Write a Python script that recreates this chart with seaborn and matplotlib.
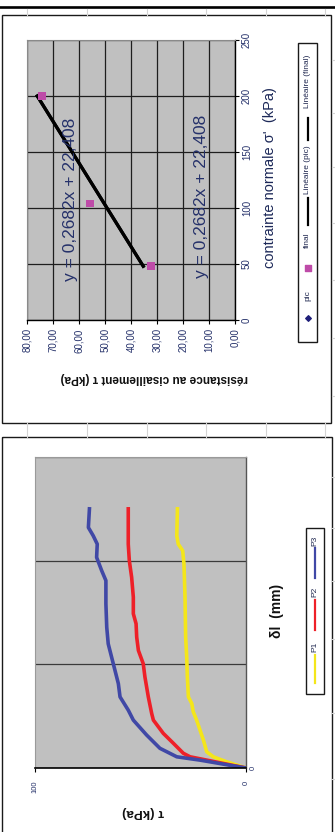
import matplotlib
matplotlib.use("Agg")
import matplotlib.pyplot as plt
import seaborn as sns
from matplotlib.patches import Rectangle

plt.rcParams['font.family'] = ['Liberation Sans', 'DejaVu Sans']

# ---- Shear strength envelope (normal stress vs. shear strength) ----
sigma_n = [48, 104, 200]            # contrainte normale (kPa)
tau_pic = [32.4, 55.8, 74.3]        # résistance de pic (kPa)
tau_final = [32.4, 55.8, 74.3]      # résistance finale (kPa)
trend_slope = 0.2682
trend_intercept = 22.408
envelope_series = ["pic", "final", "Linéaire (pic)", "Linéaire (final)"]
tau_ticks = [80, 70, 60, 50, 40, 30, 20, 10, 0]
sigma_ticks = [0, 50, 100, 150, 200, 250]

# ---- Shear stress vs. horizontal displacement ----
curve_names = ["P1", "P2", "P3"]
dl_p1 = [0, 0.3, 0.54, 0.78, 1.35, 1.83, 2.31, 2.71, 3.11, 3.43, 4.39, 5.35,
         6.31, 8.24, 9.84, 10.48, 10.8, 11.2, 12.5]
tau_p1 = [0, 9.2, 15.5, 18.6, 20.2, 21.8, 23.4, 25.0, 25.7, 27.3, 27.8, 28.1,
          28.6, 28.9, 29.4, 30.0, 32.1, 32.8, 32.5]
dl_p2 = [0, 0.38, 0.54, 0.71, 1.19, 1.67, 2.31, 2.63, 3.43, 4.39, 5.03, 5.67,
         6.31, 6.96, 7.44, 8.24, 9.2, 10.0, 10.8, 11.76, 12.5]
tau_p2 = [0, 18.6, 26.5, 29.7, 34.4, 39.2, 43.9, 44.7, 46.3, 47.9, 48.7, 51.0,
          51.8, 52.1, 53.4, 53.4, 54.2, 55.3, 55.8, 55.8, 55.8]
dl_p3 = [0, 0.38, 0.54, 0.95, 1.59, 2.31, 2.79, 3.43, 4.07, 4.71, 5.35, 5.99,
         6.79, 7.92, 9.04, 9.52, 10.16, 10.8, 11.2, 11.6, 12.5]
tau_p3 = [0, 21.8, 32.8, 40.8, 47.1, 53.4, 55.8, 59.7, 60.5, 62.1, 63.7, 65.3,
          66.0, 66.4, 66.4, 68.4, 70.8, 70.5, 72.4, 74.7, 74.2]
curve_ticks_tau = [100, 0]
curve_ticks_dl = [0, 5, 10, 15]

curve_colors = ["#f4e61a", "#ee2028", "#4048a6"]
navy = "#25316a"
W, H = 335, 832

fig = plt.figure(figsize=(W / 100, H / 100), dpi=100)


def rect(x0, y0, x1, y1):
    return [x0 / W, 1 - y1 / H, (x1 - x0) / W, (y1 - y0) / H]


# page layer in pixel coordinates
deco = fig.add_axes([0, 0, 1, 1], zorder=0)
deco.set_xlim(0, W)
deco.set_ylim(H, 0)
deco.set_axis_off()

deco.plot([0, W], [7, 7], color="black", lw=1.9)
for gx in [27, 87, 147, 206, 266, 325]:
    deco.plot([gx, gx], [9, 15], color="#d4d4d4", lw=0.8)
    deco.plot([gx, gx], [423, 437], color="#d4d4d4", lw=0.8)
for gy in [60, 113, 167, 223, 280, 338, 396, 477, 528, 581, 639, 713, 779]:
    deco.plot([332, W], [gy, gy], color="#d4d4d4", lw=0.8)
deco.add_patch(Rectangle((2, 15), 329, 408, fill=False, ec="#1a1a1a", lw=1.0))
deco.add_patch(Rectangle((2, 437), 330, 420, fill=False, ec="#1a1a1a", lw=1.0))

# ---- envelope chart ----
ax1 = fig.add_axes(rect(27, 40, 235, 320), zorder=1)
ax1.set_facecolor("#c0c0c0")
sns.scatterplot(x=tau_pic, y=sigma_n, marker="D", s=10, color="#1f1f7a",
                edgecolor="none", ax=ax1, zorder=3)
sigma_line = [min(sigma_n), max(sigma_n)]
for _ in range(2):
    tau_line = [trend_slope * s + trend_intercept for s in sigma_line]
    sns.lineplot(x=tau_line, y=sigma_line, sort=False, estimator=None,
                 color="black", lw=2.3, ax=ax1, zorder=4)
sns.scatterplot(x=tau_final, y=sigma_n, marker="s", s=30, color="#be4ba8",
                edgecolor="none", ax=ax1, zorder=5)
ax1.set_xlim(80, 0)
ax1.set_ylim(0, 250)
ax1.set_xticks(tau_ticks)
ax1.set_xticklabels([f"{v:.2f}".replace(".", ",") for v in tau_ticks])
ax1.yaxis.tick_right()
ax1.set_yticks(sigma_ticks)
ax1.set_yticklabels([str(v) for v in sigma_ticks])
ax1.tick_params(axis="x", rotation=90, length=3, width=0.8, pad=3,
                labelsize=7, labelcolor=navy)
ax1.tick_params(axis="y", rotation=90, length=3, width=0.8, pad=2,
                labelsize=7, labelcolor=navy)
for lab in ax1.get_yticklabels():
    lab.set_va("center")
ax1.grid(True, color="#1e1e1e", lw=0.9)
ax1.set_axisbelow(True)
for side in ["bottom", "right"]:
    ax1.spines[side].set_color("black")
    ax1.spines[side].set_linewidth(1.0)
for side in ["top", "left"]:
    ax1.spines[side].set_color("#8a8a8a")
    ax1.spines[side].set_linewidth(0.8)
ax1.set_xlabel("")
ax1.set_ylabel("")

eq_text = "y = 0,2682x + 22,408"
ax1.text(0.207, 0.43, eq_text, transform=ax1.transAxes, rotation=90,
         ha="center", va="center", fontsize=12.5, color=navy, zorder=6)
ax1.text(0.841, 0.443, eq_text, transform=ax1.transAxes, rotation=90,
         ha="center", va="center", fontsize=12.5, color=navy, zorder=6)

deco.text(270, 178, "contrainte normale σ'  (kPa)", rotation=90, ha="center",
          va="center", fontsize=10.5, color="#1c2858")
deco.text(154, 378, "résistance au cisaillement τ (kPa)", rotation=180,
          ha="center", va="center", fontsize=8.5, fontweight="bold",
          color="#111111")

# envelope legend
deco.add_patch(Rectangle((298.3, 43), 19, 299, fill=False, ec="#1a1a1a", lw=1.0))
lx = 307.8
deco.scatter([lx], [318], marker="D", s=8, color="#1f1f7a")
deco.text(lx, 296, envelope_series[0], rotation=90, ha="center", va="center",
          fontsize=6, color="#202850")
deco.scatter([lx], [268], marker="s", s=14, color="#be4ba8")
deco.text(lx, 240, envelope_series[1], rotation=90, ha="center", va="center",
          fontsize=6, color="#202850")
deco.plot([lx, lx], [198, 225], color="black", lw=1.6)
deco.text(lx, 170, envelope_series[2], rotation=90, ha="center", va="center",
          fontsize=6, color="#202850")
deco.plot([lx, lx], [118, 140], color="black", lw=1.6)
deco.text(lx, 81, envelope_series[3], rotation=90, ha="center", va="center",
          fontsize=6, color="#202850")

# ---- shear curves chart ----
ax2 = fig.add_axes(rect(35, 457, 246, 768), zorder=1)
ax2.set_facecolor("#c0c0c0")
for tau_vals, dl_vals, c in [(tau_p1, dl_p1, curve_colors[0]),
                             (tau_p2, dl_p2, curve_colors[1]),
                             (tau_p3, dl_p3, curve_colors[2])]:
    sns.lineplot(x=tau_vals, y=dl_vals, sort=False, estimator=None,
                 color=c, lw=2.6, ax=ax2)
ax2.set_xlim(100, 0)
ax2.set_ylim(0, 15)
ax2.set_xticks(curve_ticks_tau)
ax2.set_xticklabels([str(v) for v in curve_ticks_tau])
ax2.yaxis.tick_right()
ax2.set_yticks(curve_ticks_dl)
ax2.set_yticklabels(["0"] + [""] * (len(curve_ticks_dl) - 1))
ax2.tick_params(axis="x", rotation=90, length=3, width=0.8, pad=6,
                labelsize=5.5, labelcolor=navy)
ax2.tick_params(axis="y", rotation=90, length=0, pad=3,
                labelsize=5.5, labelcolor=navy)
for lab in ax2.get_yticklabels():
    lab.set_va("center")
ax2.grid(axis="y", color="#3a3a3a", lw=0.9)
ax2.grid(axis="x", visible=False)
ax2.set_axisbelow(True)
ax2.spines["bottom"].set_color("black")
ax2.spines["bottom"].set_linewidth(1.2)
ax2.spines["right"].set_color("#555555")
ax2.spines["right"].set_linewidth(1.0)
for side in ["top", "left"]:
    ax2.spines[side].set_color("#9a9a9a")
    ax2.spines[side].set_linewidth(0.8)
ax2.set_xlabel("")
ax2.set_ylabel("")

deco.text(277, 611, "δl  (mm)", rotation=90, ha="center", va="center",
          fontsize=10, fontweight="bold", color="#111111")
deco.text(143, 812, "τ (kPa)", rotation=180, ha="center", va="center",
          fontsize=9.5, fontweight="bold", color="#111111")

# curves legend
deco.add_patch(Rectangle((305.5, 528), 18.5, 166, fill=False, ec="#1a1a1a", lw=1.0))
lx2 = 315
for name, c, (ya, yb), yt in zip(curve_names, curve_colors,
                                 [(655, 683), (600, 630), (548, 578)],
                                 [647, 592, 541]):
    deco.plot([lx2, lx2], [ya, yb], color=c, lw=1.6)
    deco.text(lx2, yt, name, rotation=90, ha="center", va="center",
              fontsize=6, color="#202850")

fig.savefig("out.png", dpi=100)
